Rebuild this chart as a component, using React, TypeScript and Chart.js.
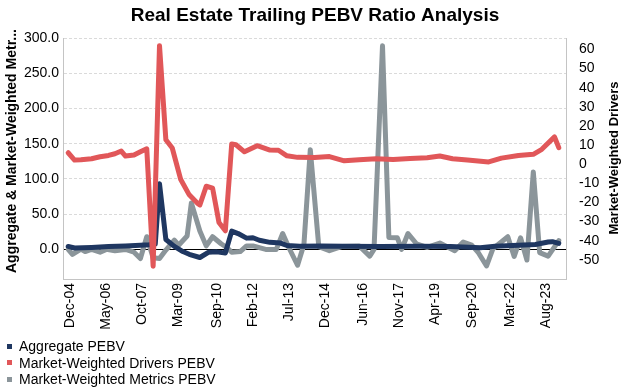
import React, { useEffect, useRef } from "react";
import { Chart, registerables } from "chart.js";

Chart.register(...registerables);

const FONT = '"Liberation Sans", Arial, Helvetica, sans-serif';

const chartTitle = "Real Estate Trailing PEBV Ratio Analysis";
const leftAxisTitle = "Aggregate & Market-Weighted Metr...";
const rightAxisTitle = "Market-Weighted Drivers";

// x positions are months counted from Dec-04
const xTickMonths = [0, 17, 34, 51, 69, 86, 103, 120, 138, 155, 172, 189, 207, 224];
const xTickLabels = [
  "Dec-04", "May-06", "Oct-07", "Mar-09", "Sep-10", "Feb-12", "Jul-13",
  "Dec-14", "Jun-16", "Nov-17", "Apr-19", "Sep-20", "Mar-22", "Aug-23",
];

const leftTicks = [0, 50, 100, 150, 200, 250, 300];
const rightTicks = [-50, -40, -30, -20, -10, 0, 10, 20, 30, 40, 50, 60];

const aggregateName = "Aggregate PEBV";
const aggregateMonths = [-1, 2, 10, 18, 26, 33, 37, 40, 42, 45, 49, 53, 56, 61, 65, 69, 73, 76, 79, 83, 86, 89, 94, 99, 102, 108, 118, 129, 146, 165, 179, 193, 200, 211, 219, 225, 227, 230];
const aggregateValues = [4.2, 2.0, 2.8, 4.0, 5.0, 6.0, 6.7, 7.6, 93, 14, 4.3, -3, -7, -11.5, -4.2, -3.5, -5, 26, 22.5, 16, 16.5, 13, 10, 9, 5.5, 4.5, 5, 4.5, 4.0, 4.5, 4.0, 2.5, 4.5, 5.8, 7, 10.5, 11, 8.5];

const driversName = "Market-Weighted Drivers PEBV";
const driversMonths = [-1, 2, 5, 10, 14, 18, 21, 24, 26, 30, 33, 36, 39, 42, 45, 48, 52, 56, 60, 61, 64, 67, 70, 73, 76, 78, 82, 88, 94, 98, 102, 107, 115, 122, 129, 136, 144, 152, 160, 168, 174, 180, 187, 197, 203, 211, 218, 222, 228, 230];
const driversValues = [6.0, 2.2, 2.3, 2.9, 3.9, 4.6, 5.5, 6.9, 4.3, 4.8, 6.5, 8.1, -53.3, 62, 12.8, 8.5, -8, -16, -20.5, -21.3, -11.5, -12.5, -30.5, -34.8, 10.6, 10.2, 6.5, 9.7, 7.4, 7.3, 4.4, 3.6, 3.5, 4.0, 1.8, 2.4, 2.9, 2.5, 3.0, 3.4, 4.3, 2.9, 2.2, 1.2, 3.2, 4.6, 5.2, 7.8, 14.3, 8.7];

const metricsName = "Market-Weighted Metrics PEBV";
const metricsMonths = [-1, 1, 5, 7, 10, 14, 17, 21, 26, 30, 33, 36, 39, 42, 45, 49, 51, 55, 57, 61, 64, 67, 71, 74, 76, 80, 83, 86, 92, 97, 100, 103, 107, 110, 113, 117, 122, 128, 136, 141, 143, 147, 150, 154, 156, 159, 163, 168, 174, 181, 185, 189, 192, 196, 199, 206, 209, 212, 215, 218, 221, 225, 230];
const metricsValues = [0, -7, 0.5, -3, 0, -4, 0, -2, 0, -4, -13, 18, -12, -13, -1, 13, 6, 19, 66, 26, 5, 18, 8, 2, -4, -3, 5, 5, 0, 0, 22.5, 2, -22.5, 7, 141.5, 4, -1.8, 4.2, 5, -9.5, 0, 289, 17, 16.5, 0, 22.5, 8, 2.8, 9, -1.8, 10.5, 6, -4, -23.5, 1, 18, -10, 16.5, -15, 110, -4.5, -9.5, 12.5];

const NAVY = "#1f3761";
const RED = "#e15759";
const GRAY = "#8b959a";

const toPoints = (xs: number[], ys: number[]) => xs.map((x, i) => ({ x, y: ys[i] }));

const axisTitlePlugin = {
  id: "axisTitles",
  afterDraw(chart: any) {
    const ctx = chart.ctx;
    ctx.save();
    ctx.fillStyle = "#000";
    ctx.textAlign = "center";
    ctx.textBaseline = "middle";
    ctx.font = `bold 14px ${FONT}`;
    ctx.translate(12, 151);
    ctx.rotate(-Math.PI / 2);
    ctx.fillText(leftAxisTitle, 0, 0);
    ctx.restore();
    ctx.save();
    ctx.fillStyle = "#000";
    ctx.textAlign = "center";
    ctx.textBaseline = "middle";
    ctx.font = `bold 13px ${FONT}`;
    ctx.translate(614, 158);
    ctx.rotate(-Math.PI / 2);
    ctx.fillText(rightAxisTitle, 0, 0);
    ctx.restore();
  },
};

const legendItems = [
  { name: aggregateName, color: NAVY },
  { name: driversName, color: RED },
  { name: metricsName, color: GRAY },
];

export default function App() {
  const canvasRef = useRef<HTMLCanvasElement | null>(null);

  useEffect(() => {
    if (!canvasRef.current) return;
    const chart = new Chart(canvasRef.current, {
      type: "line",
      data: {
        datasets: [
          {
            label: driversName,
            data: toPoints(driversMonths, driversValues),
            borderColor: RED,
            backgroundColor: RED,
            yAxisID: "y1",
            order: 0,
          },
          {
            label: aggregateName,
            data: toPoints(aggregateMonths, aggregateValues),
            borderColor: NAVY,
            backgroundColor: NAVY,
            yAxisID: "y",
            order: 1,
          },
          {
            label: metricsName,
            data: toPoints(metricsMonths, metricsValues),
            borderColor: GRAY,
            backgroundColor: GRAY,
            yAxisID: "y",
            order: 2,
          },
        ],
      },
      options: {
        responsive: false,
        animation: false,
        events: [],
        layout: { padding: { left: 0, right: 0, top: 0, bottom: 51 } },
        elements: {
          point: { radius: 0, hoverRadius: 0 },
          line: { borderWidth: 5, tension: 0, borderJoinStyle: "round", borderCapStyle: "round", fill: false },
        },
        plugins: {
          legend: { display: false },
          tooltip: { enabled: false },
          title: {
            display: true,
            text: chartTitle,
            color: "#000",
            font: { family: FONT, size: 19, weight: "bold" },
            padding: { top: 4, bottom: 11.2 },
          },
        },
        scales: {
          x: {
            type: "linear",
            min: -3.44,
            max: 233.4,
            afterBuildTicks: (s: any) => {
              s.ticks = xTickMonths.map((v) => ({ value: v }));
            },
            afterFit: (s: any) => {
              s.height = 60;
            },
            ticks: {
              autoSkip: false,
              minRotation: 90,
              maxRotation: 90,
              padding: 4,
              color: "#000",
              font: { family: FONT, size: 14 },
              callback: (v: any) => {
                const i = xTickMonths.indexOf(Number(v));
                return i >= 0 ? xTickLabels[i] : "";
              },
            },
            grid: { display: false, drawTicks: false },
            border: { display: true, color: "#c4c4c4", width: 1 },
          },
          y: {
            type: "linear",
            position: "left",
            min: -42,
            max: 300,
            afterBuildTicks: (s: any) => {
              s.ticks = leftTicks.map((v) => ({ value: v }));
            },
            afterFit: (s: any) => {
              s.width = 63;
            },
            ticks: {
              autoSkip: false,
              padding: 4,
              color: "#000",
              font: { family: FONT, size: 14 },
              callback: (v: any) => Number(v).toFixed(1),
            },
            grid: {
              drawTicks: false,
              color: (c: any) => (c.tick && c.tick.value === 0 ? "#000000" : "#dadada"),
              lineWidth: 1,
            },
            border: {
              display: true,
              color: "#c4c4c4",
              width: 1,
              dash: (c: any) => (c.tick && c.tick.value === 0 ? [] : [3, 2]),
            },
          },
          y1: {
            type: "linear",
            position: "right",
            min: -60,
            max: 66,
            afterBuildTicks: (s: any) => {
              s.ticks = rightTicks.map((v) => ({ value: v }));
            },
            afterFit: (s: any) => {
              s.width = 64;
            },
            ticks: {
              autoSkip: false,
              padding: 13,
              color: "#000",
              font: { family: FONT, size: 14 },
              callback: (v: any) => String(v),
            },
            grid: { display: false, drawTicks: false },
            border: { display: true, color: "#c4c4c4", width: 1 },
          },
        },
      } as any,
      plugins: [axisTitlePlugin],
    });
    return () => chart.destroy();
  }, []);

  return (
    <div style={{ position: "absolute", left: 0, top: 0, width: 630, height: 390, background: "#fff" }}>
      <canvas ref={canvasRef} width={630} height={390} style={{ display: "block", width: 630, height: 390 }} />
      {legendItems.map((it, i) => (
        <div
          key={it.name}
          style={{
            position: "absolute",
            left: 0,
            top: 338 + i * 16.5,
            height: 16,
            lineHeight: "16px",
            fontFamily: FONT,
            fontSize: 14,
            color: "#000",
            whiteSpace: "nowrap",
          }}
        >
          <span
            style={{
              position: "absolute",
              left: 7,
              top: 5.5,
              width: 5,
              height: 5,
              background: it.color,
            }}
          />
          <span style={{ position: "absolute", left: 19, top: 0 }}>{it.name}</span>
        </div>
      ))}
    </div>
  );
}
